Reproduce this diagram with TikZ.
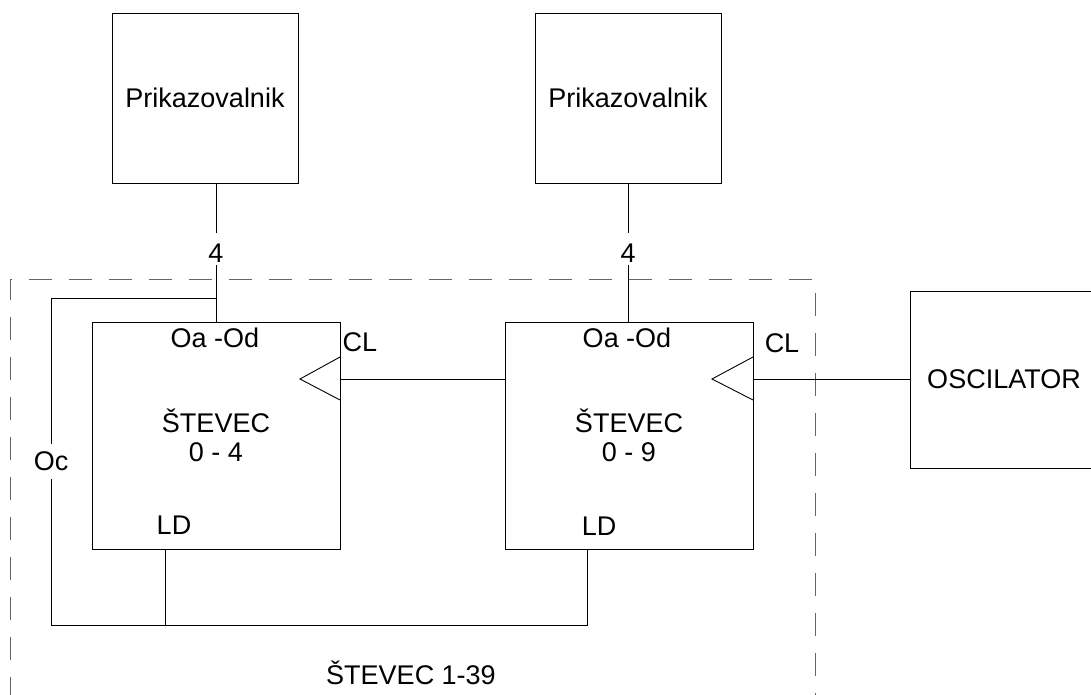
\documentclass[tikz,border=0pt]{standalone}
\usepackage{fontspec}
\setmainfont{Liberation Sans}
\begin{document}
\begin{tikzpicture}[x=1pt,y=-1pt,
  every node/.style={font=\fontsize{27}{29.5}\selectfont, text=black},
  wire/.style={draw=black, line width=0.9pt},
  blockbox/.style={draw=black, line width=0.9pt, inner sep=0pt, align=center},
  lbl/.style={inner sep=0pt},
  frame/.style={draw={rgb,255:red,100;green,100;blue,100}, line width=1pt, dash pattern=on 23pt off 17pt}]
\useasboundingbox (0,0) rectangle (1091,695);
% display boxes
\node[blockbox, minimum width=186pt, minimum height=170pt] (p1) at (205,98) {Prikazovalnik};
\node[blockbox, minimum width=186pt, minimum height=170pt] (p2) at (628,98) {Prikazovalnik};
% counters
\node[blockbox, minimum width=248pt, minimum height=227pt] (c1) at (216,435.5) {ŠTEVEC\\0 - 4};
\node[blockbox, minimum width=248pt, minimum height=227pt] (c2) at (629,435.5) {ŠTEVEC\\0 - 9};
% oscillator
\node[blockbox, minimum width=188pt, minimum height=177pt] (osc) at (1004,379.5) {OSCILATOR};
% bus labels
\node[lbl, anchor=base, text height=29.8pt, text depth=2.2pt] (n4a) at (216,262.8) {4};
\node[lbl, anchor=base, text height=29.8pt, text depth=2.2pt] (n4b) at (628,262.8) {4};
\node[lbl, anchor=base, text height=26.5pt, text depth=8.5pt] (oc) at (51,470.5) {Oc};
% pin labels
\node[lbl] (oa1) at (215,338) {Oa -Od};
\node[lbl] (oa2) at (627,338) {Oa -Od};
\node[lbl] (cl1) at (360,342) {CL};
\node[lbl] (cl2) at (782,343) {CL};
\node[lbl] (ld1t) at (174,525) {LD};
\node[lbl] (ld2t) at (599,526) {LD};
\node[lbl] (title) at (411,673) {ŠTEVEC 1-39};
% frame
\draw[frame] (10,700) -- (10,279) -- (815,279) -- (815,700);
% coordinates
\coordinate (j1) at (216,298);
\coordinate (ld1) at (165,549);
\coordinate (ld2) at (587,549);
\coordinate (rail) at (51,625);
\coordinate (k1) at (340,379);
\coordinate (k2) at (753,379);
% buses
\draw[wire] (p1.south -| n4a) -- (n4a.north);
\draw[wire] (n4a.south) -- (c1.north);
\draw[wire] (p2.south -| n4b) -- (n4b.north);
\draw[wire] (n4b.south) -- (n4b.south |- c2.north);
% feedback Oc
\draw[wire] (j1) -| (oc.north);
\draw[wire] (oc.south) |- (ld2 |- rail) -- (ld2);
\draw[wire] (ld1) -- (ld1 |- rail);
% clock lines
\draw[wire] (k1) -- (k1 -| c2.west);
\draw[wire] (k2) -- (k2 -| osc.west);
% clock triangles
\draw[wire, line join=miter] (340,357) -- (300,379) -- (340,400);
\draw[wire, line join=miter] (753,357) -- (712,379) -- (753,400);
\end{tikzpicture}
\end{document}
